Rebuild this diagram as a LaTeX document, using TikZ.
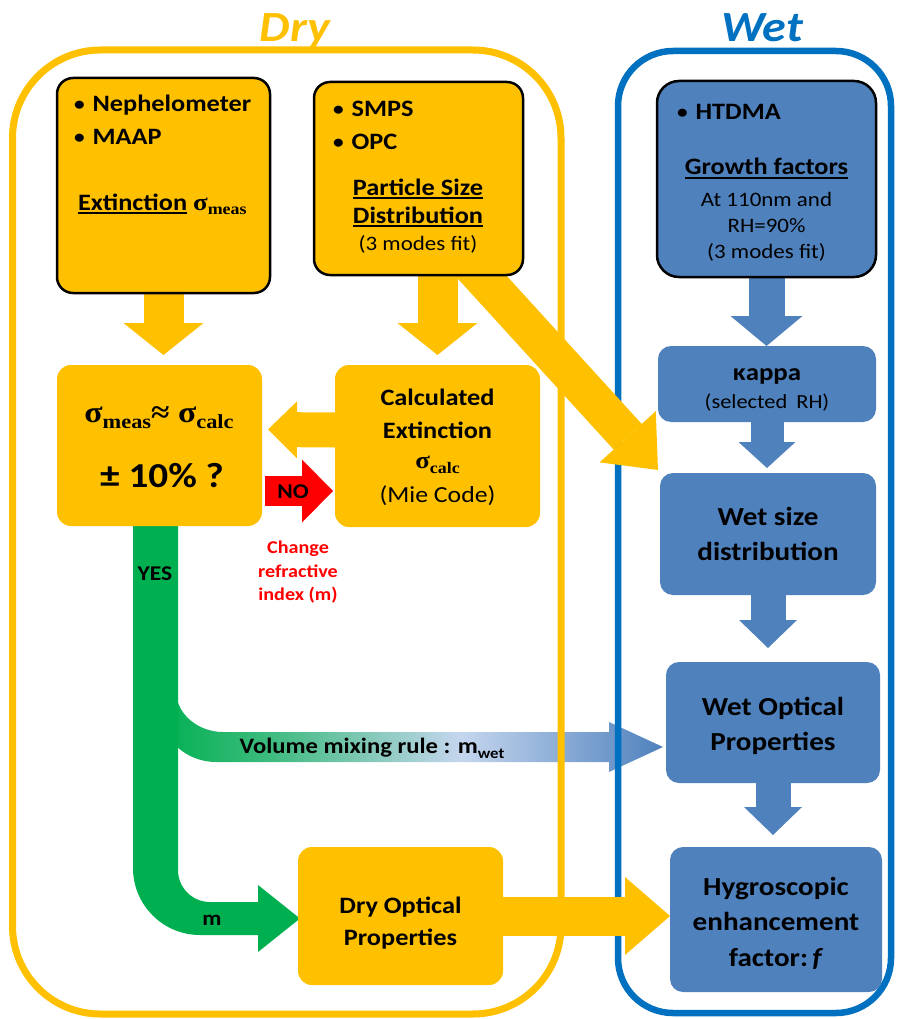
\documentclass[tikz,border=0pt]{standalone}
\usepackage{fontspec}
\setmainfont[FakeStretch=1.12]{Carlito}
\newfontfamily\tms[FakeStretch=1.12]{Liberation Serif}
\usetikzlibrary{arrows.meta,calc}
\definecolor{gold}{HTML}{FFC000}
\definecolor{bluebox}{HTML}{4F81BD}
\definecolor{wetline}{HTML}{0070C0}
\definecolor{grn}{HTML}{00B050}
\definecolor{gmid}{HTML}{3DBB7E}
\definecolor{lblue}{HTML}{C5D6EE}
\definecolor{redc}{HTML}{FF0000}
\pgfdeclarehorizontalshading{mixgrad}{100bp}{color(0bp)=(grn); color(25bp)=(grn); color(36bp)=(gmid); color(55bp)=(lblue); color(75bp)=(bluebox); color(100bp)=(bluebox)}
\pgfdeclarelayer{bg}
\pgfsetlayers{bg,main}
\newcommand\fs[2]{\fontsize{#1}{#2}\selectfont}
\newcommand\ulx[1]{\leavevmode\setbox0\hbox{#1}\rlap{\rule[-4pt]{\wd0}{1.8pt}}\box0}
\newcommand\bul{\raisebox{1.5pt}{\fs{19}{19}•}\hspace{8pt}}
\begin{document}
\begin{tikzpicture}[x=1pt,y=-1pt,
 every node/.style={inner sep=0pt,outer sep=0pt},
 ybox/.style={anchor=north west, fill=gold, draw=black, line width=2.5pt, rounded corners=16pt},
 bboxk/.style={anchor=north west, fill=bluebox, draw=black, line width=2.5pt, rounded corners=22pt},
 yflat/.style={anchor=north west, fill=gold, rounded corners=14pt},
 bflat/.style={anchor=north west, fill=bluebox, rounded corners=13pt},
 bt/.style={anchor=base, font=\bfseries\fs{23.5}{28}},
 btw/.style={anchor=base west, font=\bfseries\fs{23.5}{28}},
 rt/.style={anchor=base, font=\fs{20.5}{24}},
 big/.style={anchor=base, font=\bfseries\fs{26}{30}},
 redt/.style={anchor=base, text=redc, font=\bfseries\fs{18}{22}},
 fat/.style n args={4}{draw=#1, line width=#2, -{Triangle[length=#4 0 0, width=#3 0 0, line width=0pt 0 0]}},
]
\useasboundingbox (0,0) rectangle (896,1019);

% boxes
\node[ybox, minimum width=213pt, minimum height=215pt] (b1) at (57,78) {};
\node[ybox, minimum width=209pt, minimum height=193pt] (b2) at (314,82) {};
\node[bboxk, minimum width=219pt, minimum height=196pt] (b3) at (657,81) {};
\node[yflat, minimum width=205pt, minimum height=161pt] (dec) at (57,365) {};
\node[yflat, minimum width=205pt, minimum height=162pt] (calc) at (335,365) {};
\node[bflat, minimum width=218pt, minimum height=76pt] (kap) at (658,346) {};
\node[bflat, minimum width=216pt, minimum height=122pt] (wsd) at (660,473) {};
\node[bflat, minimum width=214pt, minimum height=121pt] (wop) at (666,662) {};
\node[bflat, minimum width=212pt, minimum height=145pt] (hyg) at (670,847) {};
\node[yflat, minimum width=205pt, minimum height=138pt] (dop) at (298,847) {};

% titles
\node[anchor=base, text=gold, font=\bfseries\itshape\fs{43}{43}] (drylab) at (295,42) {Dry};
\node[anchor=base, text=wetline, font=\bfseries\itshape\fs{43}{43}] (wetlab) at (762,42) {Wet};

% box 1 text
\node[btw] (n1) at (74,112) {\bul Nephelometer};
\node[btw] (n2) at (74,145) {\bul MAAP};
\node[btw] (n3) at (78,210) {\ulx{Extinction}\hspace{6pt}{\tms\fs{24}{24}σ\raisebox{-5pt}{\fs{16}{16}meas}}};

% box 2 text
\node[btw] (s1) at (333,117) {\bul SMPS};
\node[btw] (s2) at (333,150) {\bul OPC};
\node[bt] (s3) at (418,195) {\ulx{Particle Size}};
\node[bt] (s4) at (418,223) {\ulx{Distribution}};
\node[rt] (s5) at (418,250) {(3 modes fit)};

% box 3 text
\node[btw] (h1) at (677,120) {\bul HTDMA};
\node[bt] (h2) at (766.5,175) {\ulx{Growth factors}};
\node[rt] (h3) at (766.5,207) {At 110nm and};
\node[rt] (h4) at (766.5,232) {RH=90\%};
\node[rt] (h5) at (766.5,258) {(3 modes fit)};

% kappa
\node[anchor=base, font=\bfseries\fs{24}{28}] (k1) at (767,380) {κappa};
\node[anchor=base, font=\fs{20}{24}] (k2) at (767,408) {(selected\hspace{9pt}RH)};

% wet size
\node[big] (w1) at (768,525) {Wet size};
\node[big] (w2) at (768,560) {distribution};

% wet optical
\node[big] (o1) at (773,715) {Wet Optical};
\node[big] (o2) at (773,750) {Properties};

% hygroscopic
\node[big] (g1) at (776,895) {Hygroscopic};
\node[big] (g2) at (776,930) {enhancement};
\node[big] (g3) at (776,966) {factor:\,\textit{f}};

% dry optical
\node[bt] (d1) at (400.5,913) {Dry Optical};
\node[bt] (d2) at (400.5,945) {Properties};

% decision
\node[anchor=base, font=\tms\bfseries\fs{30}{30}] (q1) at (159,422) {σ\raisebox{-6pt}{\fs{20}{20}meas}≈ σ\raisebox{-6pt}{\fs{20}{20}calc}};
\node[anchor=base, font=\bfseries\fs{35}{40}] (q2) at (162,487) {± 10\% ?};

% calculated extinction
\node[bt] (c1) at (437.5,405) {Calculated};
\node[bt] (c2) at (437.5,438) {Extinction};
\node[anchor=base, font=\tms\bfseries\fs{24}{24}] (c3) at (437.5,468) {σ\raisebox{-5pt}{\fs{16}{16}calc}};
\node[anchor=base, font=\fs{23}{27}] (c4) at (437.5,502) {(Mie Code)};

% labels on arrows
\node[anchor=base, font=\bfseries\fs{21}{24}] (no) at (293,498) {NO};
\node[redt] (ch1) at (298,553) {Change};
\node[redt] (ch2) at (298,577) {refractive};
\node[redt] (ch3) at (298,600) {index (m)};
\node[anchor=base, font=\bfseries\fs{21}{24}] (yes) at (155,580) {YES};
\node[anchor=base, font=\bfseries\fs{21}{24}] (mm) at (212,925) {m};
\node[anchor=base, font=\bfseries\fs{22}{26}] (vm) at (372,753) {Volume mixing rule : m\raisebox{-5pt}{\fs{15}{15}wet}};

\begin{pgfonlayer}{bg}
% gradient branch
\shade[shading=mixgrad] (158,670) -- (176,670) -- (176,692) .. controls (177,716) and (200,732) .. (223,732) -- (609,732) -- (609,722) -- (663,747) -- (609,772) -- (609,762) -- (216,762) .. controls (184,762) and (158,736) .. (158,704) -- cycle;
% green YES / m path
\fill[grn] (133,526) -- (178,526) -- (178,870) .. controls (178,887.7) and (192.3,902) .. (210,902) -- (258,902) -- (258,885) -- (300,918.5) -- (258,952) -- (258,935) -- (200,935) .. controls (163,935) and (133,905) .. (133,868) -- cycle;
% containers
\node[anchor=north west, draw=gold, line width=7pt, rounded corners=88pt, minimum width=548.5pt, minimum height=964pt] (dry) at (12.5,50) {};
\node[anchor=north west, draw=wetline, line width=6.5pt, rounded corners=55pt, minimum width=273pt, minimum height=962pt] (wet) at (618,51) {};
% arrows
\draw[fat={gold}{40pt}{80pt}{32pt}] (b1.south) -- ($(b1.south |- dec.north)+(0,-10)$);
\draw[fat={gold}{40pt}{80pt}{32pt}] (b2.south -| calc.north) -- ($(calc.north)+(0,-10)$);
\draw[fat={gold}{38pt}{76pt}{45pt}] ($(b2.south)+(48,-15)$) -- ($(wsd.north west)+(-2,-3)$);
\draw[fat={gold}{35pt}{57pt}{29pt}] ($(calc.west)+(0,-16)$) -- ($(dec.east)+(6,-16)$);
\draw[fat={redc}{30pt}{63pt}{31pt}] ($(dec.east)+(3,45.5)$) -- ($(calc.west)+(-2,45)$);
\draw[fat={bluebox}{36pt}{72pt}{30pt}] (b3.south) -- (b3.south |- kap.north);
\draw[fat={bluebox}{33pt}{57pt}{26pt}] (kap.south) -- ($(kap.south |- wsd.north)+(0,-5)$);
\draw[fat={bluebox}{35pt}{58pt}{28pt}] (wsd.south) -- ($(wsd.south |- wop.north)+(0,-14)$);
\draw[fat={bluebox}{35pt}{58pt}{28pt}] (wop.south) -- ($(wop.south |- hyg.north)+(0,-12)$);
\draw[fat={gold}{39pt}{78pt}{45pt}] (dop.east) -- (dop.east -| hyg.west);
\end{pgfonlayer}
\end{tikzpicture}
\end{document}
